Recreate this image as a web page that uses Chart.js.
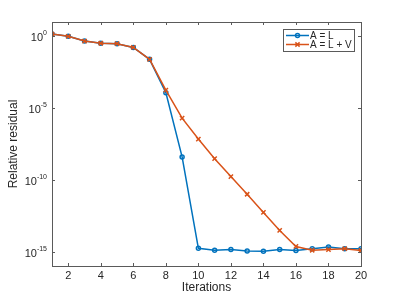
<!DOCTYPE html>
<html>
<head>
<meta charset="utf-8">
<script src="https://cdn.jsdelivr.net/npm/chart.js@4.4.1/dist/chart.umd.min.js"></script>
<style>
  html, body { margin: 0; padding: 0; background: #fff; }
  #wrap { width: 399px; height: 299px; }
</style>
</head>
<body>
<div id="wrap"><canvas id="residualChart" width="399" height="299"></canvas></div>
<script>
// data
var iterations = [1, 2, 3, 4, 5, 6, 7, 8, 9, 10, 11, 12, 13, 14, 15, 16, 17, 18, 19, 20];
var residualL = [1.45, 1.0, 0.47, 0.33, 0.31, 0.17, 0.025, 1.2e-4, 4e-9, 1.7e-15,
                 1.26e-15, 1.4e-15, 1.1e-15, 1.05e-15, 1.4e-15, 1.2e-15, 1.6e-15, 2.1e-15, 1.6e-15, 1.6e-15];
var residualLV = [1.45, 1.0, 0.47, 0.33, 0.31, 0.17, 0.025, 1.8e-4, 2e-6, 7e-8,
                  3e-9, 1.7e-10, 1e-11, 5.4e-13, 3e-14, 2.3e-15, 1.25e-15, 1.4e-15, 1.6e-15, 1.2e-15];
var xTicks = [2, 4, 6, 8, 10, 12, 14, 16, 18, 20];
var yTicks = [1e-15, 1e-10, 1e-5, 1e0];
var yTickExponents = ['-15', '-10', '-5', '0'];

var blue = '#0072BD';
var orange = '#D95319';
var textColor = '#262626';
var axisColor = '#5a5a5a';
var font = 'Liberation Sans, Arial, Helvetica, sans-serif';

// box around the axes with inward ticks on all four sides, plus 10^n labels
var boxPlugin = {
    id: 'matlabBox',
    afterDraw: function (chart) {
        var ctx = chart.ctx;
        var a = chart.chartArea;
        var xs = chart.scales.x, ys = chart.scales.y;
        var t = 3;
        ctx.save();
        ctx.strokeStyle = axisColor;
        ctx.lineWidth = 1;
        ctx.strokeRect(a.left + 0.5, a.top + 0.5, a.right - a.left, a.bottom - a.top);
        ctx.beginPath();
        xTicks.forEach(function (v) {
            var px = Math.round(xs.getPixelForValue(v)) + 0.5;
            ctx.moveTo(px, a.bottom); ctx.lineTo(px, a.bottom - t);
            ctx.moveTo(px, a.top); ctx.lineTo(px, a.top + t);
        });
        yTicks.forEach(function (v) {
            var py = Math.round(ys.getPixelForValue(v)) + 0.5;
            ctx.moveTo(a.left, py); ctx.lineTo(a.left + t, py);
            ctx.moveTo(a.right, py); ctx.lineTo(a.right - t, py);
        });
        ctx.stroke();

        // y tick labels as 10 with a raised exponent
        ctx.fillStyle = textColor;
        ctx.textBaseline = 'alphabetic';
        ctx.textAlign = 'left';
        yTicks.forEach(function (v, i) {
            var py = ys.getPixelForValue(v);
            ctx.font = '7px ' + font;
            var ew = ctx.measureText(yTickExponents[i]).width;
            ctx.font = '11px ' + font;
            var bw = ctx.measureText('10').width;
            var x0 = a.left - 5 - ew - bw;
            ctx.fillText('10', x0, py + 5);
            ctx.font = '7px ' + font;
            ctx.fillText(yTickExponents[i], x0 + bw, py - 1);
        });
        ctx.restore();
    }
};

// legend drawn inside the top right corner of the axes
var legendPlugin = {
    id: 'insideLegend',
    afterDraw: function (chart) {
        var ctx = chart.ctx;
        var a = chart.chartArea;
        var w = 71, h = 22;
        var x0 = a.right - 7 - w, y0 = a.top + 7;
        ctx.save();
        ctx.fillStyle = '#fff';
        ctx.fillRect(x0, y0, w, h);
        ctx.strokeStyle = axisColor;
        ctx.lineWidth = 1;
        ctx.strokeRect(x0 + 0.5, y0 + 0.5, w, h);
        ctx.font = '10px ' + font;
        ctx.textBaseline = 'middle';
        chart.data.datasets.forEach(function (ds, i) {
            var cy = y0 + 6.5 + i * 9;
            ctx.strokeStyle = ds.borderColor;
            ctx.lineWidth = 1.5;
            ctx.beginPath();
            ctx.moveTo(x0 + 3, cy); ctx.lineTo(x0 + 26, cy);
            ctx.stroke();
            ctx.fillStyle = 'rgba(255,255,255,0)';
            Chart.helpers.drawPoint(ctx, {
                pointStyle: ds.pointStyle, radius: ds.pointRadius, borderWidth: 1.5
            }, x0 + 14.5, cy);
            ctx.fillStyle = textColor;
            ctx.fillText(ds.label, x0 + 27, cy + 0.5);
        });
        ctx.restore();
    }
};

new Chart(document.getElementById('residualChart').getContext('2d'), {
    type: 'line',
    data: {
        labels: iterations,
        datasets: [{
            label: 'A = L',
            data: iterations.map(function (x, i) { return { x: x, y: residualL[i] }; }),
            borderColor: blue,
            backgroundColor: blue,
            pointBackgroundColor: 'rgba(255,255,255,0)',
            pointBorderColor: blue,
            pointStyle: 'circle',
            pointRadius: 2,
            pointBorderWidth: 1.5,
            borderWidth: 1.5,
            tension: 0,
            order: 2
        }, {
            label: 'A = L + V',
            data: iterations.map(function (x, i) { return { x: x, y: residualLV[i] }; }),
            borderColor: orange,
            backgroundColor: orange,
            pointBorderColor: orange,
            pointStyle: 'crossRot',
            pointRadius: 3,
            pointBorderWidth: 1.5,
            borderWidth: 1.5,
            tension: 0,
            order: 1
        }]
    },
    options: {
        responsive: false,
        animation: false,
        events: [],
        layout: { padding: { top: 22, right: 38, left: 0, bottom: 0 } },
        plugins: { legend: { display: false }, tooltip: { enabled: false } },
        scales: {
            x: {
                type: 'linear',
                min: 1,
                max: 20,
                afterBuildTicks: function (scale) {
                    scale.ticks = xTicks.map(function (v) { return { value: v }; });
                },
                afterFit: function (scale) { scale.height = 33; },
                grid: { display: false, drawTicks: false },
                border: { display: false },
                ticks: { color: textColor, font: { family: font, size: 11 }, padding: 3, maxRotation: 0 },
                title: { display: true, text: 'Iterations', color: textColor, font: { family: font, size: 12 }, padding: { top: 0, bottom: 4 } }
            },
            y: {
                type: 'logarithmic',
                min: 1e-16,
                max: 1e1,
                afterBuildTicks: function (scale) {
                    scale.ticks = yTicks.map(function (v) { return { value: v }; });
                },
                afterFit: function (scale) { scale.width = 52; },
                grid: { display: false, drawTicks: false },
                border: { display: false },
                ticks: { display: true, callback: function () { return ''; } },
                title: { display: true, text: 'Relative residual', color: textColor, font: { family: font, size: 12 }, padding: { top: 6, bottom: 0 } }
            }
        }
    },
    plugins: [boxPlugin, legendPlugin]
});
</script>
</body>
</html>
